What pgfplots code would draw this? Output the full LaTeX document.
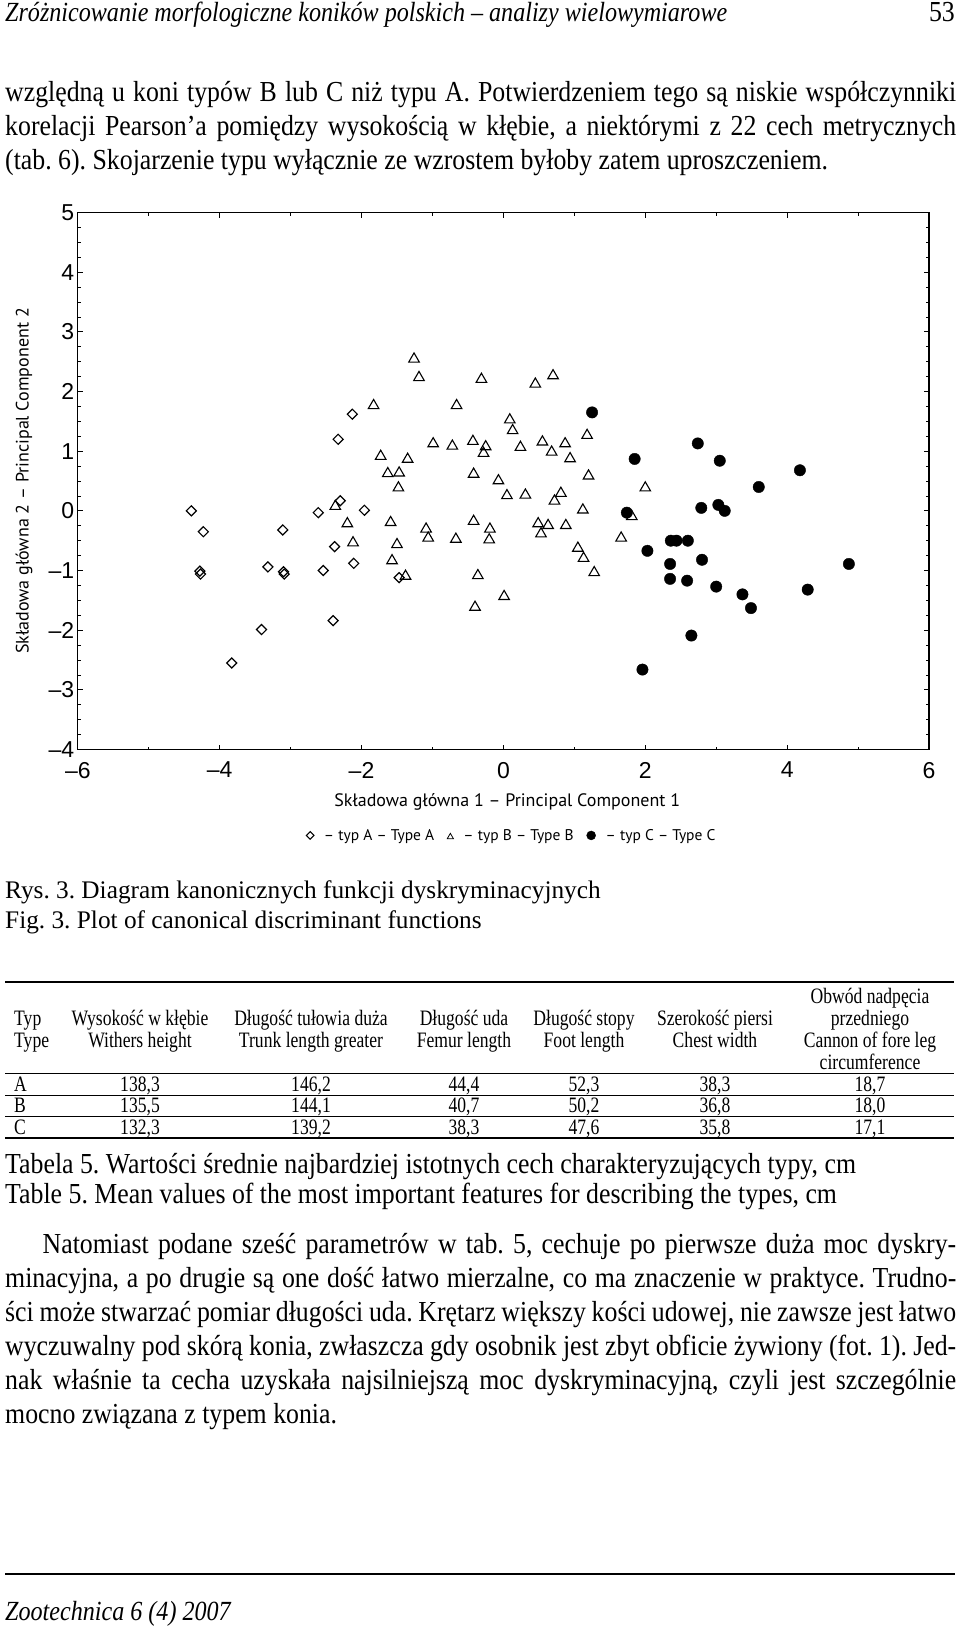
\documentclass[border=0pt]{standalone}
\usepackage{fontspec}
\usepackage{pgfplots}
\pgfplotsset{compat=1.18}
\newfontfamily\bodyfont[FakeStretch=0.89]{Liberation Serif}
\newfontfamily\headfont[FakeStretch=0.87]{Liberation Serif}
\newfontfamily\tabfont[FakeStretch=0.80]{Liberation Serif}
\newfontfamily\capfont{Liberation Serif}
\newfontfamily\tickfont{Liberation Sans}
\newfontfamily\labfont{PT Sans}
\newcommand{\bodyf}{\bodyfont\fontsize{29bp}{34bp}\selectfont}
\newcommand{\headf}{\headfont\itshape\fontsize{27.7bp}{28bp}\selectfont}
\newcommand{\tabf}{\tabfont\fontsize{22bp}{22bp}\selectfont}
\newcommand{\capf}{\capfont\fontsize{25.3bp}{30bp}\selectfont}
\newcommand{\jline}[2][951bp]{\makebox[#1][s]{#2}}
\frenchspacing

\begin{document}
\begin{tikzpicture}[x=1bp,y=1bp]
\path[use as bounding box] (0,0) rectangle (960,-1626);

% page header
\node[anchor=base west,inner sep=0] at (5,-22) {\headf Zróżnicowanie morfologiczne koników polskich – analizy wielowymiarowe};
\node[anchor=base east,inner sep=0] at (955,-22) {\bodyf 53};

% text above the chart
\node[anchor=base west,inner sep=0] at (5,-101) {\bodyf\jline{względną u koni typów B lub C niż typu A. Potwierdzeniem tego są niskie współczynniki}};
\node[anchor=base west,inner sep=0] at (5,-135) {\bodyf\jline{korelacji Pearson’a pomiędzy wysokością w kłębie, a niektórymi z 22 cech metrycznych}};
\node[anchor=base west,inner sep=0] at (5,-169) {\bodyf (tab. 6). Skojarzenie typu wyłącznie ze wzrostem byłoby zatem uproszczeniem.};

\begin{axis}[
  at={(77.8bp,-749.5bp)}, anchor=south west,
  scale only axis, width=851.2bp, height=537bp,
  xmin=-6, xmax=6, ymin=-4, ymax=5,
  xtick={-6,-4,...,6}, xticklabels={–6,–4,–2,0,2,4,6},
  ytick={-4,...,5}, yticklabels={–4,–3,–2,–1,0,1,2,3,4,5},
  minor x tick num=1, minor y tick num=3,
  tick align=inside,
  major tick length=5bp, minor tick length=3bp,
  every tick/.style={black, line width=0.8bp},
  axis line style={line width=1.2bp},
  ticklabel style={font=\tickfont\fontsize{23bp}{23bp}\selectfont},
  xticklabel style={yshift=-9bp},
  xlabel={Składowa główna 1 – Principal Component 1},
  ylabel={Składowa główna 2 – Principal Component 2},
  label style={font=\labfont\fontsize{18bp}{18bp}\selectfont},
  xlabel style={at={(axis description cs:0.5045,-0.097)}, anchor=center},
  ylabel style={at={(axis description cs:-0.063,0.5)}, anchor=center},
  legend columns=3,
  legend style={at={(axis description cs:0.51,-0.16)}, anchor=center,
    draw=none, fill=none, font=\labfont\fontsize{15.5bp}{15.5bp}\selectfont,
    /tikz/every odd column/.append style={column sep=8bp},
    /tikz/every even column/.append style={column sep=11bp}},
]

% typ A
\addplot[only marks, mark=square, mark size=3.55bp, line width=1.2bp,
  mark options={rotate=45, fill=white, draw=black},
  legend image code/.code={\draw[black, mark=square, mark size=2.7bp, line width=1bp, mark options={rotate=45}] plot coordinates {(0bp,0bp)};}]
  coordinates {
  (-4.40,0.00) (-4.23,-0.35) (-4.28,-1.01) (-4.27,-1.06) (-3.83,-2.55)
  (-3.41,-1.99) (-3.32,-0.94) (-3.11,-0.32) (-3.10,-1.02) (-3.09,-1.06)
  (-2.61,-0.03) (-2.54,-1.00) (-2.40,-1.84) (-2.38,-0.60) (-2.33,1.20)
  (-2.30,0.17) (-2.13,1.62) (-2.11,-0.88) (-1.96,0.01) (-1.47,-1.12)
};
\addlegendentry{– typ A – Type A}

% typ B
\addplot[only marks, mark=triangle, mark size=6.1bp, line width=1.1bp,
  mark options={draw=black, yshift=-1.5bp},
  legend image code/.code={\draw[black, mark=triangle, mark size=3.6bp, line width=0.8bp] plot coordinates {(0bp,0bp)};}]
  coordinates {
  (-1.26,2.57) (-1.19,2.26) (-0.31,2.23) (0.45,2.15) (0.70,2.29)
  (-1.83,1.79) (-0.66,1.79) (0.09,1.55) (0.13,1.37) (1.18,1.29)
  (-0.99,1.15) (-0.72,1.11) (-0.43,1.19) (-0.25,1.10) (-0.28,0.99)
  (0.24,1.09) (0.55,1.18) (0.87,1.15) (0.68,1.01) (0.94,0.90)
  (-1.73,0.94) (-1.35,0.89) (-1.63,0.65) (-1.47,0.66) (-1.48,0.41)
  (-0.42,0.64) (-0.07,0.53) (1.20,0.61) (2.00,0.41) (0.05,0.28)
  (0.31,0.29) (0.81,0.32) (0.72,0.19) (1.12,0.04) (1.81,-0.07)
  (-2.37,0.10) (-2.20,-0.19) (-2.12,-0.51) (-1.59,-0.17) (-1.09,-0.28)
  (-1.06,-0.43) (-0.67,-0.45) (-0.42,-0.15) (-0.19,-0.28) (-0.20,-0.46)
  (0.49,-0.19) (0.63,-0.22) (0.53,-0.36) (0.88,-0.22) (1.66,-0.43)
  (-1.50,-0.54) (-1.57,-0.81) (-1.38,-1.07) (-0.36,-1.06) (1.05,-0.60)
  (1.13,-0.77) (1.28,-1.01) (0.01,-1.41) (-0.40,-1.59)
};
\addlegendentry{– typ B – Type B}

% typ C
\addplot[only marks, mark=*, mark size=5.7bp,
  mark options={draw=black, fill=black},
  legend image code/.code={\draw[black, fill=black, mark=*, mark size=4.5bp] plot coordinates {(0bp,0bp)};}]
  coordinates {
  (1.25,1.65) (1.85,0.87) (1.74,-0.03) (2.03,-0.67) (2.74,1.13)
  (3.05,0.84) (4.18,0.68) (3.60,0.40) (2.79,0.05) (3.03,0.10)
  (3.12,0.00) (2.36,-0.50) (2.44,-0.50) (2.60,-0.50) (2.35,-0.89)
  (2.80,-0.82) (4.87,-0.89) (2.35,-1.14) (2.59,-1.17) (3.00,-1.27)
  (3.37,-1.40) (4.29,-1.32) (3.49,-1.63) (2.65,-2.09) (1.96,-2.66)
};
\addlegendentry{– typ C – Type C}
\end{axis}

% figure captions
\node[anchor=base west,inner sep=0] at (5,-898) {\capf Rys. 3. Diagram kanonicznych funkcji dyskryminacyjnych};
\node[anchor=base west,inner sep=0] at (5,-928) {\capf Fig. 3. Plot of canonical discriminant functions};

% table 5
\draw[line width=1.8bp] (5,-982) -- (954,-982);
\draw[line width=1bp] (5,-1073) -- (954,-1073);
\draw[line width=1bp] (5,-1095) -- (954,-1095);
\draw[line width=1bp] (5,-1116) -- (954,-1116);
\draw[line width=1.8bp] (5,-1138) -- (954,-1138);
\begin{scope}[every node/.style={anchor=base,inner sep=0,font=\tabf}]
\node at (870,-1003) {Obwód nadpęcia};
\node[anchor=base west] at (14,-1025) {Typ};
\node at (140,-1025) {Wysokość w kłębie};
\node at (311,-1025) {Długość tułowia duża};
\node at (464,-1025) {Długość uda};
\node at (584,-1025) {Długość stopy};
\node at (715,-1025) {Szerokość piersi};
\node at (870,-1025) {przedniego};
\node[anchor=base west] at (14,-1047) {Type};
\node at (140,-1047) {Withers height};
\node at (311,-1047) {Trunk length greater};
\node at (464,-1047) {Femur length};
\node at (584,-1047) {Foot length};
\node at (715,-1047) {Chest width};
\node at (870,-1047) {Cannon of fore leg};
\node at (870,-1069) {circumference};
\node[anchor=base west] at (14,-1091) {A};
\node at (140,-1091) {138,3};
\node at (311,-1091) {146,2};
\node at (464,-1091) {44,4};
\node at (584,-1091) {52,3};
\node at (715,-1091) {38,3};
\node at (870,-1091) {18,7};
\node[anchor=base west] at (14,-1112) {B};
\node at (140,-1112) {135,5};
\node at (311,-1112) {144,1};
\node at (464,-1112) {40,7};
\node at (584,-1112) {50,2};
\node at (715,-1112) {36,8};
\node at (870,-1112) {18,0};
\node[anchor=base west] at (14,-1134) {C};
\node at (140,-1134) {132,3};
\node at (311,-1134) {139,2};
\node at (464,-1134) {38,3};
\node at (584,-1134) {47,6};
\node at (715,-1134) {35,8};
\node at (870,-1134) {17,1};
\end{scope}

% table captions
\node[anchor=base west,inner sep=0] at (5,-1173) {\bodyf Tabela 5. Wartości średnie najbardziej istotnych cech charakteryzujących typy, cm};
\node[anchor=base west,inner sep=0] at (5,-1203) {\bodyf Table 5. Mean values of the most important features for describing the types, cm};

% text below the table
\node[anchor=base west,inner sep=0] at (42.5,-1253) {\bodyf\jline[913.5bp]{Natomiast podane sześć parametrów w tab. 5, cechuje po pierwsze duża moc dyskry-}};
\node[anchor=base west,inner sep=0] at (5,-1287) {\bodyf\jline{minacyjna, a po drugie są one dość łatwo mierzalne, co ma znaczenie w praktyce. Trudno-}};
\node[anchor=base west,inner sep=0] at (5,-1321) {\bodyf\jline{ści może stwarzać pomiar długości uda. Krętarz większy kości udowej, nie zawsze jest łatwo}};
\node[anchor=base west,inner sep=0] at (5,-1355) {\bodyf\jline{wyczuwalny pod skórą konia, zwłaszcza gdy osobnik jest zbyt obficie żywiony (fot. 1). Jed-}};
\node[anchor=base west,inner sep=0] at (5,-1389) {\bodyf\jline{nak właśnie ta cecha uzyskała najsilniejszą moc dyskryminacyjną, czyli jest szczególnie}};
\node[anchor=base west,inner sep=0] at (5,-1423) {\bodyf mocno związana z typem konia.};

% page footer
\draw[line width=1.3bp] (5,-1574) -- (955,-1574);
\node[anchor=base west,inner sep=0] at (5,-1620) {\headf Zootechnica 6 (4) 2007};
\end{tikzpicture}
\end{document}
